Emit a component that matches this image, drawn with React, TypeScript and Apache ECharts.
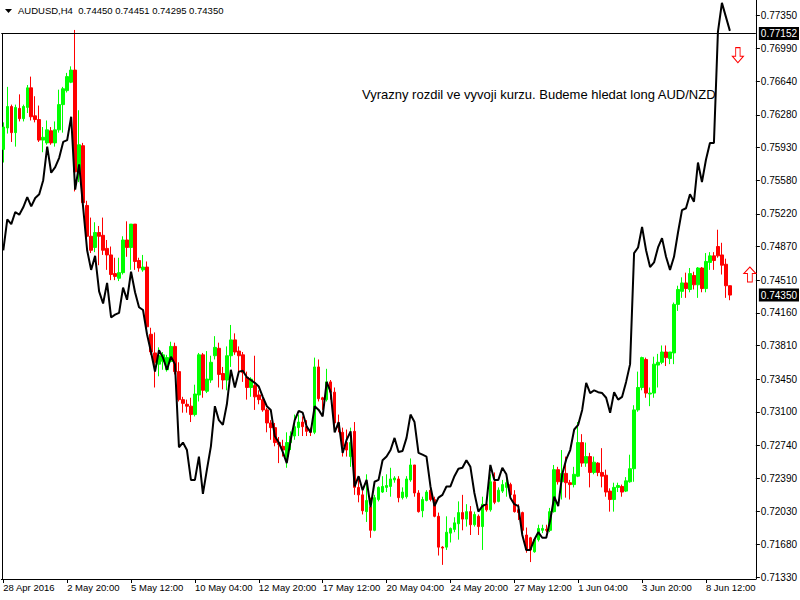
import React, { useEffect, useRef } from "react";
import * as echarts from "echarts";

const SYMBOL = "AUDUSD";
const TIMEFRAME = "H4";
const NOTE = "Vyrazny rozdil ve vyvoji kurzu. Budeme hledat long AUD/NZD";

const tickLabels = ["28 Apr 2016", "2 May 20:00", "5 May 12:00", "10 May 04:00", "12 May 20:00", "17 May 12:00", "20 May 04:00", "24 May 20:00", "27 May 12:00", "1 Jun 04:00", "3 Jun 20:00", "8 Jun 12:00"];

const yTicks = [0.7735, 0.7699, 0.7664, 0.7628, 0.7593, 0.7558, 0.7522, 0.7487, 0.7451, 0.7416, 0.7381, 0.7345, 0.731, 0.7274, 0.7239, 0.7203, 0.7168, 0.7133];

const opens = [0.7591,0.7614,0.7637,0.7609,0.7635,0.7624,0.7636,0.7657,0.7627,0.7623,0.7601,0.7598,0.7611,0.7598,0.7612,0.7639,0.7654,0.7663,0.7676,0.7566,0.7595,0.7531,0.7498,0.7486,0.7502,0.7499,0.7485,0.7478,0.7458,0.7453,0.7459,0.7494,0.7486,0.7511,0.7472,0.7462,0.7465,0.7393,0.7373,0.7361,0.7364,0.7355,0.7364,0.738,0.7353,0.7323,0.7318,0.7316,0.7307,0.7328,0.7371,0.7332,0.7344,0.737,0.7378,0.7351,0.7344,0.737,0.7387,0.7375,0.7371,0.7347,0.7336,0.7338,0.7328,0.7323,0.7312,0.7298,0.7293,0.7277,0.7273,0.7262,0.7277,0.7284,0.7293,0.7299,0.7294,0.7289,0.7288,0.7358,0.7325,0.7323,0.7342,0.7331,0.7298,0.7288,0.7277,0.7262,0.7289,0.7229,0.7221,0.7203,0.7208,0.7183,0.7216,0.7224,0.7229,0.723,0.7237,0.7238,0.7218,0.7219,0.7237,0.7253,0.7223,0.7204,0.7215,0.7226,0.7216,0.7198,0.7165,0.7165,0.718,0.7184,0.719,0.7202,0.7195,0.7203,0.7189,0.7198,0.7187,0.7211,0.7205,0.7235,0.7214,0.7225,0.7229,0.7232,0.7221,0.7205,0.7202,0.7178,0.7175,0.716,0.7173,0.7183,0.7184,0.7183,0.7203,0.7248,0.7235,0.7244,0.7234,0.7232,0.7241,0.7277,0.7255,0.7262,0.7245,0.7255,0.7245,0.7242,0.7225,0.7216,0.7229,0.723,0.7225,0.7235,0.7249,0.7312,0.7336,0.7366,0.7329,0.733,0.736,0.7363,0.7374,0.7367,0.7373,0.7425,0.7439,0.7448,0.7441,0.7456,0.7446,0.7464,0.7442,0.747,0.7477,0.7487,0.7478,0.7468,0.7445];

const closes = [0.7615,0.7637,0.7609,0.7636,0.7624,0.7637,0.7657,0.7626,0.7623,0.7601,0.7604,0.7612,0.7598,0.7612,0.7639,0.7656,0.7669,0.7676,0.7567,0.7596,0.7534,0.7498,0.7483,0.7502,0.7498,0.7483,0.7478,0.7457,0.7455,0.7459,0.7494,0.7486,0.7511,0.7471,0.7464,0.7465,0.7401,0.7374,0.7363,0.737,0.7371,0.7368,0.738,0.7353,0.7323,0.7319,0.7316,0.7307,0.7329,0.7371,0.7333,0.7345,0.7363,0.7379,0.735,0.7344,0.737,0.7387,0.7374,0.737,0.7352,0.7336,0.7345,0.7326,0.7323,0.7312,0.7298,0.7293,0.7277,0.7275,0.7269,0.7277,0.7284,0.7294,0.7299,0.7294,0.7289,0.7288,0.7358,0.7324,0.7323,0.7342,0.7331,0.7298,0.7293,0.7273,0.7269,0.7277,0.7229,0.7221,0.7204,0.7215,0.7183,0.7218,0.7229,0.723,0.7231,0.7238,0.7239,0.7218,0.7224,0.7238,0.7253,0.7223,0.7203,0.7216,0.7224,0.7216,0.7198,0.7165,0.7164,0.7181,0.7185,0.7191,0.7202,0.7195,0.7203,0.7189,0.72,0.7187,0.7211,0.7205,0.7235,0.7213,0.7226,0.7232,0.7234,0.7221,0.7203,0.7202,0.7183,0.7162,0.7162,0.7173,0.7185,0.7185,0.7183,0.7203,0.7248,0.7235,0.7244,0.7234,0.7232,0.7243,0.7277,0.7255,0.7262,0.7245,0.7256,0.7245,0.7241,0.7224,0.7216,0.7229,0.7231,0.7224,0.7236,0.7249,0.7312,0.7336,0.7368,0.733,0.733,0.7361,0.7363,0.7374,0.7368,0.7374,0.7425,0.7441,0.7448,0.7442,0.7458,0.7446,0.7464,0.7442,0.7471,0.7477,0.7472,0.7477,0.7467,0.7445,0.7435];

const lows = [0.7577,0.7608,0.7599,0.7594,0.7621,0.7621,0.763,0.7622,0.762,0.7599,0.7588,0.7596,0.7596,0.7594,0.7609,0.7609,0.7652,0.7662,0.7546,0.7556,0.7531,0.7494,0.748,0.7481,0.7467,0.7478,0.7462,0.7451,0.7451,0.745,0.7457,0.7476,0.7462,0.7462,0.746,0.746,0.7395,0.7371,0.7336,0.7348,0.7355,0.7353,0.7363,0.735,0.7321,0.7309,0.7309,0.7299,0.7305,0.7321,0.7325,0.733,0.7341,0.7366,0.7336,0.7334,0.7333,0.7358,0.7371,0.7352,0.7342,0.7323,0.7326,0.7312,0.7318,0.731,0.7288,0.728,0.7273,0.7255,0.7262,0.725,0.7269,0.728,0.7284,0.7284,0.7284,0.7284,0.7286,0.7321,0.7312,0.7321,0.7323,0.7296,0.7288,0.7262,0.7262,0.7251,0.7221,0.7213,0.72,0.7192,0.7175,0.7182,0.7214,0.7223,0.7224,0.7219,0.7234,0.7213,0.7216,0.7217,0.7235,0.7219,0.7202,0.7197,0.7214,0.7214,0.7197,0.7156,0.7146,0.7162,0.717,0.7181,0.7173,0.7183,0.7187,0.7178,0.7187,0.7178,0.7162,0.7203,0.7203,0.7211,0.7213,0.7223,0.7219,0.7218,0.7202,0.7194,0.7181,0.7159,0.7149,0.7159,0.7171,0.718,0.7181,0.7181,0.7202,0.7232,0.7216,0.7218,0.7216,0.7229,0.724,0.7251,0.7251,0.7229,0.7243,0.7241,0.7229,0.7219,0.7203,0.7203,0.7224,0.7219,0.7224,0.7234,0.7235,0.731,0.7333,0.7325,0.7316,0.7325,0.7336,0.7361,0.7359,0.7361,0.7361,0.7418,0.7432,0.7432,0.7438,0.7441,0.7432,0.7438,0.7438,0.7462,0.7462,0.7475,0.7457,0.7432,0.74295];

const highs = [0.762,0.7658,0.7639,0.7639,0.765,0.7639,0.766,0.7669,0.7648,0.7638,0.7615,0.7622,0.7615,0.7621,0.7655,0.7658,0.7673,0.768,0.7719,0.7633,0.7598,0.7536,0.7518,0.7513,0.7509,0.7518,0.7494,0.7487,0.7475,0.7475,0.7498,0.7514,0.7511,0.7511,0.7475,0.7478,0.7471,0.74,0.7395,0.7379,0.7374,0.7371,0.7385,0.7384,0.7363,0.7326,0.7323,0.7325,0.7339,0.7373,0.7373,0.7375,0.737,0.7391,0.7384,0.7358,0.738,0.7403,0.7394,0.738,0.7374,0.7353,0.7347,0.737,0.7333,0.7325,0.7314,0.7301,0.7298,0.7283,0.728,0.7288,0.7289,0.7307,0.7307,0.7305,0.7301,0.7293,0.7368,0.7366,0.7326,0.7356,0.7344,0.7336,0.7307,0.7293,0.7291,0.7293,0.7299,0.7241,0.7226,0.7243,0.7218,0.7221,0.723,0.7241,0.7243,0.725,0.7241,0.7241,0.7229,0.7241,0.726,0.7253,0.7226,0.7219,0.7226,0.7227,0.7219,0.7202,0.7166,0.7198,0.7186,0.7197,0.7214,0.7221,0.7211,0.7209,0.7203,0.72,0.7219,0.7214,0.7243,0.7245,0.7229,0.7237,0.7239,0.7234,0.7226,0.7211,0.7203,0.7186,0.7176,0.7175,0.7189,0.7189,0.7189,0.7207,0.7253,0.7251,0.7269,0.7262,0.7237,0.7251,0.7299,0.7286,0.7277,0.7266,0.7262,0.7256,0.7271,0.7248,0.7228,0.7234,0.7234,0.7232,0.724,0.7264,0.7317,0.7353,0.7369,0.7368,0.7336,0.7369,0.7372,0.7381,0.7381,0.7374,0.7427,0.7445,0.7454,0.7459,0.7464,0.746,0.7465,0.7465,0.748,0.7481,0.7481,0.7505,0.7491,0.7474,0.74451];

const overlay = [0.7483,0.7516,0.7511,0.7524,0.7521,0.7529,0.754,0.753,0.7539,0.7543,0.7558,0.7594,0.7566,0.7572,0.7582,0.7599,0.7601,0.7626,0.7548,0.7575,0.7529,0.7483,0.7462,0.7477,0.7439,0.7426,0.7448,0.7411,0.7414,0.7416,0.7443,0.743,0.746,0.7438,0.7422,0.7419,0.7393,0.7374,0.7353,0.7376,0.7368,0.7355,0.7369,0.7361,0.7272,0.7277,0.7269,0.7237,0.7237,0.7262,0.7222,0.7248,0.7273,0.7316,0.7301,0.7296,0.7318,0.7355,0.7336,0.7353,0.7354,0.7347,0.7344,0.7341,0.7337,0.7326,0.7316,0.7312,0.7284,0.7277,0.7267,0.7255,0.728,0.7301,0.7311,0.7309,0.7294,0.7288,0.7316,0.7312,0.7305,0.7342,0.7331,0.7288,0.7299,0.7266,0.728,0.7289,0.723,0.7241,0.7226,0.7237,0.7208,0.7235,0.7237,0.7258,0.7262,0.7269,0.7282,0.7267,0.7268,0.7282,0.7307,0.7299,0.7266,0.7264,0.7262,0.723,0.7209,0.7218,0.7221,0.723,0.723,0.7241,0.7249,0.725,0.7258,0.7251,0.7223,0.7203,0.7209,0.7211,0.7253,0.7237,0.7237,0.725,0.7243,0.7218,0.7211,0.7209,0.7178,0.7162,0.7162,0.7173,0.7181,0.7175,0.7175,0.7194,0.7219,0.7209,0.7243,0.7259,0.7269,0.7291,0.7296,0.7312,0.7341,0.733,0.7333,0.7331,0.733,0.7325,0.7309,0.7331,0.7323,0.7326,0.7342,0.7361,0.748,0.7486,0.7508,0.7483,0.7465,0.747,0.7486,0.7496,0.7476,0.7462,0.7476,0.7502,0.7526,0.7528,0.7543,0.7535,0.7577,0.7556,0.758,0.7598,0.7598,0.7717,0.7748,0.7733,0.7718];

const hLineLevel = 0.77152;
const downArrow = { bar: 184, price: 0.7692 };
const upArrow = { bar: 187, price: 0.7457 };

const EMPTY_BARS = 6;
const MONTHS = ["Jan", "Feb", "Mar", "Apr", "May", "Jun", "Jul", "Aug", "Sep", "Oct", "Nov", "Dec"];

function buildCategories(n: number): string[] {
  const out: string[] = [];
  let t = Date.UTC(2016, 3, 28, 8);
  while (out.length < n) {
    const d = new Date(t);
    const wd = d.getUTCDay();
    if (wd !== 0 && wd !== 6) {
      const hh = String(d.getUTCHours()).padStart(2, "0");
      out.push(`${d.getUTCDate()} ${MONTHS[d.getUTCMonth()]} ${hh}:00`);
    }
    t += 4 * 3600 * 1000;
  }
  return out;
}

const FONT = "Liberation Sans";

export default function App() {
  const ref = useRef<HTMLDivElement>(null);
  useEffect(() => {
    if (!ref.current) return;
    const chart = echarts.init(ref.current, undefined, { renderer: "svg" });
    const n = opens.length;
    const categories = buildCategories(n + EMPTY_BARS);
    const candleData = opens.map((o, i) => [o, closes[i], lows[i], highs[i]]);
    const last = n - 1;
    const header = `${SYMBOL},${TIMEFRAME}  ${opens[last].toFixed(5)} ${highs[last].toFixed(5)} ${lows[last].toFixed(5)} ${closes[last].toFixed(5)}`;
    const tagLabel = {
      show: true,
      position: "end",
      distance: 3,
      color: "#fff",
      backgroundColor: "#000",
      padding: [2, 2, 1, 2],
      fontFamily: FONT,
      fontSize: 10,
      formatter: (p: any) => Number(p.value).toFixed(5),
    };
    const option: any = {
      animation: false,
      backgroundColor: "#ffffff",
      textStyle: { fontFamily: FONT },
      grid: { left: 1.3, right: 42.7, top: 0, bottom: 21 },
      xAxis: {
        type: "category",
        data: categories,
        boundaryGap: true,
        axisLine: { show: true, lineStyle: { color: "#000", width: 1 } },
        axisTick: { show: true, alignWithLabel: true, interval: 15, length: 4, lineStyle: { color: "#000" } },
        axisLabel: {
          interval: 15,
          align: "left",
          color: "#000",
          fontSize: 9.5,
          fontFamily: FONT,
          margin: 3,
          formatter: (_v: string, idx: number) => (idx % 16 === 0 ? tickLabels[idx / 16] ?? "" : ""),
        },
        splitLine: { show: false },
      },
      yAxis: {
        type: "value",
        position: "right",
        min: 0.713086,
        max: 0.775107,
        splitLine: { show: false },
        axisLine: { show: true, lineStyle: { color: "#000", width: 1 } },
        axisTick: { show: true, customValues: yTicks, length: 4, lineStyle: { color: "#000" } },
        axisLabel: {
          customValues: yTicks,
          formatter: (v: number) => v.toFixed(5),
          color: "#000",
          fontSize: 10,
          fontFamily: FONT,
          margin: 5,
        },
      },
      series: [
        {
          type: "candlestick",
          data: candleData,
          barWidth: 3,
          itemStyle: {
            color: "#00ff00",
            color0: "#ff0000",
            borderColor: "#00ff00",
            borderColor0: "#ff0000",
            borderWidth: 1,
          },
          markLine: {
            silent: true,
            symbol: ["none", "none"],
            precision: 5,
            animation: false,
            data: [
              { yAxis: hLineLevel, lineStyle: { color: "#000", width: 1, type: "solid" }, label: tagLabel },
              { yAxis: closes[last], lineStyle: { color: "rgba(0,0,0,0)", width: 1 }, label: tagLabel },
            ],
          },
        },
        {
          type: "line",
          data: overlay,
          showSymbol: false,
          symbol: "none",
          lineStyle: { color: "#000", width: 2 },
          z: 5,
          markPoint: {
            silent: true,
            label: { show: false },
            data: [
              {
                coord: [categories[downArrow.bar], downArrow.price],
                symbol: "path://M3,0 L7,0 L7,8 L10,8 L5,14 L0,8 L3,8 Z",
                symbolSize: [11, 15],
                itemStyle: { color: "rgba(255,255,255,0)", borderColor: "#ff0000", borderWidth: 1 },
              },
              {
                coord: [categories[upArrow.bar], upArrow.price],
                symbol: "path://M5,0 L10,6 L7,6 L7,14 L3,14 L3,6 L0,6 Z",
                symbolSize: [12, 15],
                itemStyle: { color: "rgba(255,255,255,0)", borderColor: "#ff0000", borderWidth: 1 },
              },
            ],
          },
        },
      ],
      graphic: [
        { type: "line", shape: { x1: 2.5, y1: 33, x2: 2.5, y2: 579 }, style: { stroke: "#000", lineWidth: 1 }, silent: true },
        { type: "polygon", shape: { points: [[5, 9], [12, 9], [8.5, 13]] }, style: { fill: "#000" }, silent: true },
        { type: "text", x: 18, y: 5, style: { text: header, fill: "#000", font: `9.5px "${FONT}"` }, silent: true },
        { type: "text", x: 362, y: 88, style: { text: NOTE, fill: "#000", font: `13px "${FONT}"` }, silent: true },
      ],
    };
    chart.setOption(option);
    return () => chart.dispose();
  }, []);
  return <div ref={ref} style={{ position: "fixed", left: 0, top: 0, width: 800, height: 600 }} />;
}
